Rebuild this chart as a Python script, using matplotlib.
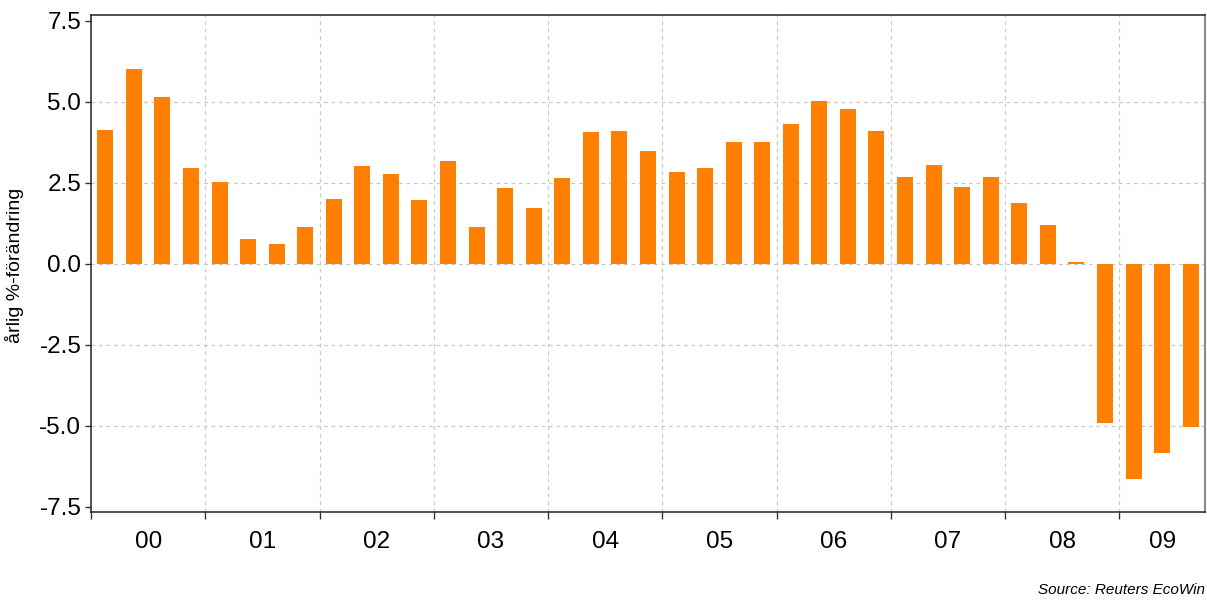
import matplotlib
matplotlib.use("Agg")

import matplotlib.pyplot as plt
import numpy as np

# quarterly annual % change, 2000Q1 .. 2009Q3
years = ["00", "01", "02", "03", "04", "05", "06", "07", "08", "09"]
values = [
    4.14, 6.02, 5.14, 2.97,
    2.52, 0.76, 0.61, 1.15,
    2.00, 3.03, 2.78, 1.97,
    3.19, 1.13, 2.35, 1.72,
    2.64, 4.06, 4.09, 3.48,
    2.82, 2.96, 3.77, 3.76,
    4.32, 5.03, 4.78, 4.10,
    2.69, 3.05, 2.38, 2.68,
    1.88, 1.20, 0.06, -4.92,
    -6.65, -5.84, -5.04,
]
y_ticks = [-7.5, -5.0, -2.5, 0.0, 2.5, 5.0, 7.5]

ORANGE = "#FF8000"
GRID = "#C8C8C8"

plt.rcParams["font.family"] = ["Liberation Sans", "DejaVu Sans"]

fig = plt.figure(figsize=(12.07, 6.01), dpi=100)
ax = fig.add_axes([0.0754, 0.148, 0.9229, 0.827])

n = len(values)
x = np.arange(n) + 0.5
ax.bar(x, values, width=0.56, color=ORANGE, zorder=3)

ax.set_xlim(0, n)
ax.set_ylim(-7.66, 7.68)

# year boundaries as major ticks, labels centred on the visible part of each year
bounds = np.arange(0, n, 4)
ax.set_xticks(bounds)
ax.set_xticklabels([])
centers = [(b + min(b + 4, n)) / 2 for b in bounds]
ax.set_xticks(centers, minor=True)
ax.set_xticklabels(years, minor=True)
ax.tick_params(axis="x", which="major", direction="out", length=5, width=1, color="#333333")
ax.tick_params(axis="x", which="minor", length=0, pad=14, labelsize=17.5)

ax.set_yticks(y_ticks)
ax.set_yticklabels([f"{v:.1f}" for v in y_ticks])
ax.tick_params(axis="y", direction="out", length=4, width=1, color="#333333", pad=3, labelsize=17.5)

# dashed grid: year boundaries and inner y ticks only
for b in bounds[1:]:
    ax.axvline(b, color=GRID, linestyle=(0, (3, 3)), linewidth=0.9, zorder=0)
for v in y_ticks[1:-1]:
    ax.axhline(v, color=GRID, linestyle=(0, (3, 3)), linewidth=0.9, zorder=0)

for side in ["left", "bottom", "top"]:
    ax.spines[side].set_color("#222222")
    ax.spines[side].set_linewidth(1.1)
ax.spines["right"].set_color("#888888")
ax.spines["right"].set_linewidth(1.5)

ax.set_ylabel("årlig %-förändring", fontsize=14)
ax.yaxis.set_label_coords(-0.060, 0.497)

fig.text(0.998, 0.018, "Source: Reuters EcoWin", ha="right", va="center",
         fontsize=11, style="italic")

fig.savefig("out.png", dpi=100)
